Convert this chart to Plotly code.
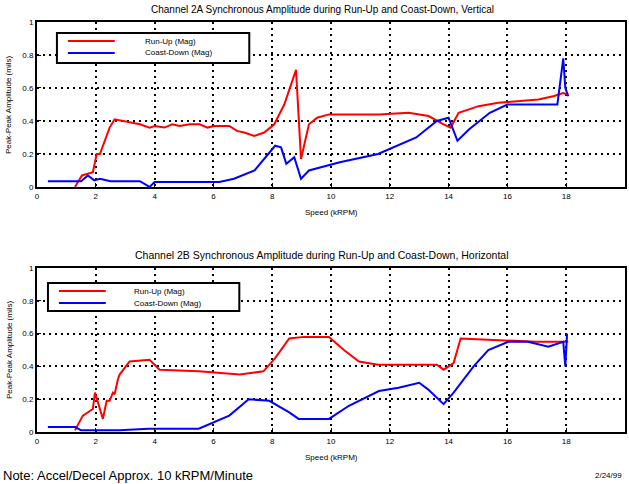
import plotly.graph_objects as go

# ---- data (speed in kRPM, amplitude in mils) ----
top_run_x = [1.29, 1.53, 1.90, 2.03, 2.14, 2.37, 2.47, 2.64, 2.9, 3.15, 3.5, 3.83, 4.0, 4.34, 4.6,
             4.85, 5.2, 5.53, 5.8, 6.03, 6.54, 6.8, 7.05, 7.39, 7.73, 8.07, 8.41, 8.81, 8.98,
             9.25, 9.53, 9.93, 10.61, 11.63, 12.64, 13.32, 13.83, 14.07, 14.34, 15.02, 15.69,
             16.37, 17.05, 17.56, 17.90, 18.07]
top_run_y = [0.0, 0.07, 0.09, 0.2, 0.2, 0.32, 0.36, 0.41, 0.40, 0.39, 0.38, 0.36, 0.37, 0.36, 0.38,
             0.37, 0.38, 0.38, 0.36, 0.37, 0.37, 0.34, 0.33, 0.31, 0.33, 0.38, 0.5, 0.71, 0.17,
             0.38, 0.42, 0.44, 0.44, 0.44, 0.45, 0.43, 0.38, 0.36, 0.45, 0.49, 0.51, 0.52,
             0.53, 0.55, 0.57, 0.56]

top_coast_x = [0.37, 1.3, 1.5, 1.73, 1.95, 2.14, 2.5, 3.5, 3.83, 4.0, 4.2, 6.2, 6.7, 7.4, 8.1, 8.3,
               8.48, 8.75, 8.98, 9.25, 10.3, 11.6, 12.9, 13.6, 14.0, 14.3, 14.7, 15.4, 16.0,
               17.0, 17.7, 17.9, 17.97, 18.07]
top_coast_y = [0.035, 0.035, 0.035, 0.07, 0.04, 0.05, 0.035, 0.035, 0.0, 0.03, 0.03, 0.03, 0.05, 0.1,
               0.25, 0.24, 0.14, 0.18, 0.05, 0.1, 0.15, 0.2, 0.3, 0.4, 0.42, 0.28, 0.35, 0.45, 0.5,
               0.5, 0.5, 0.78, 0.6, 0.55]

bot_run_x = [1.29, 1.56, 1.9, 1.97, 2.14, 2.24, 2.37, 2.47, 2.58, 2.64, 2.75, 2.81, 3.15, 3.83,
             4.17, 5.5, 6.9, 7.7, 8.1, 8.58, 9.08, 9.93, 10.44, 10.95, 11.6, 13.6, 13.83, 14.17,
             14.41, 15.7, 17.0, 18.07]
bot_run_y = [0.01, 0.1, 0.14, 0.24, 0.14, 0.08, 0.19, 0.19, 0.24, 0.23, 0.32, 0.35, 0.43, 0.44,
             0.38, 0.37, 0.35, 0.37, 0.45, 0.57, 0.58, 0.58, 0.5, 0.43, 0.41, 0.41, 0.38, 0.42,
             0.57, 0.56, 0.55, 0.55]

bot_coast_x = [0.37, 1.3, 1.5, 2.8, 3.8, 5.5, 6.54, 7.2, 7.9, 8.58, 8.9, 9.93, 10.61, 11.63,
               12.3, 13.0, 13.3, 13.83, 14.17, 14.85, 15.35, 16.03, 16.7, 17.39, 17.9, 17.97, 18.03]
bot_coast_y = [0.03, 0.03, 0.01, 0.01, 0.02, 0.02, 0.1, 0.2, 0.19, 0.12, 0.08, 0.08, 0.16, 0.25,
               0.27, 0.3, 0.26, 0.17, 0.24, 0.4, 0.5, 0.55, 0.55, 0.52, 0.55, 0.4, 0.6]

x_ticks = [0, 2, 4, 6, 8, 10, 12, 14, 16, 18, 20]
y_ticks = [0, 0.2, 0.4, 0.6, 0.8, 1.0]
y_tick_text = ["0", "0.2", "0.4", "0.6", "0.8", "1"]

titles = ["Channel 2A Synchronous Amplitude during Run-Up and Coast-Down, Vertical",
          "Channel 2B Synchronous Amplitude during Run-Up and Coast-Down, Horizontal"]
legend_names = ["Run-Up (Mag)", "Coast-Down (Mag)"]
x_title = "Speed (kRPM)"
y_title = "Peak-Peak Amplitude (mils)"
footer = "Note: Accel/Decel Approx. 10 kRPM/Minute"
footer_right = "2/24/99"

FONT = "Liberation Sans, Arial, sans-serif"
RED = "#ff0000"
BLUE = "#0000ff"

fig = go.Figure()
fig.add_trace(go.Scatter(x=top_run_x, y=top_run_y, mode="lines", line=dict(color=RED, width=2),
                         xaxis="x", yaxis="y", showlegend=False))
fig.add_trace(go.Scatter(x=top_coast_x, y=top_coast_y, mode="lines", line=dict(color=BLUE, width=2),
                         xaxis="x", yaxis="y", showlegend=False))
fig.add_trace(go.Scatter(x=bot_run_x, y=bot_run_y, mode="lines", line=dict(color=RED, width=2),
                         xaxis="x2", yaxis="y2", showlegend=False))
fig.add_trace(go.Scatter(x=bot_coast_x, y=bot_coast_y, mode="lines", line=dict(color=BLUE, width=2),
                         xaxis="x2", yaxis="y2", showlegend=False))

ax_common = dict(showline=True, linecolor="black", linewidth=2, mirror=True,
                 showgrid=True, gridcolor="black", griddash="2px,4px", gridwidth=2,
                 ticks="inside", ticklen=4, tickcolor="black", tickwidth=1, zeroline=False,
                 tickfont=dict(size=8, color="black", family=FONT))

fig.update_layout(
    width=629, height=484,
    margin=dict(l=37, r=2, t=22, b=52),
    paper_bgcolor="white", plot_bgcolor="white",
    showlegend=False,
    xaxis=dict(domain=[0, 1], range=[0, 20], tickvals=x_ticks, anchor="y", **ax_common),
    yaxis=dict(domain=[0.5976, 1], range=[0, 1], tickvals=y_ticks, ticktext=y_tick_text,
               anchor="x", **ax_common),
    xaxis2=dict(domain=[0, 1], range=[0, 20], tickvals=x_ticks, anchor="y2", **ax_common),
    yaxis2=dict(domain=[0, 0.4], range=[0, 1], tickvals=y_ticks, ticktext=y_tick_text,
                anchor="x2", **ax_common),
)

ann = []
def txt(x, y, s, size=8, xanchor="center", textangle=0):
    ann.append(dict(x=x, y=y, xref="paper", yref="paper", text=s, showarrow=False,
                    xanchor=xanchor, yanchor="middle", textangle=textangle,
                    font=dict(size=size, color="black", family=FONT)))

def py(p):  # pixel y -> paper y
    return (432 - p) / 410.0

def px(p):  # pixel x -> paper x
    return (p - 37) / 590.0

txt(px(323), py(10), titles[0], size=10)
txt(px(323), py(255), titles[1], size=10.5)
txt(px(332), py(212), x_title)
txt(px(332), py(457), x_title)
txt(px(9), py(105), y_title, textangle=-90)
txt(px(9), py(350), y_title, textangle=-90)
txt(px(1), py(475), footer, size=13, xanchor="left")
txt(px(610), py(475), footer_right, size=8)

# legend boxes
shapes = []
for (x0, y0, x1, y1, tx, names, ysA) in [(57, 33, 250, 63, 86, legend_names, (41, 53)),
                                         (48, 283, 240, 311, 84, legend_names, (291, 303))]:
    shapes.append(dict(type="rect", xref="paper", yref="paper", x0=px(x0), x1=px(x1),
                       y0=py(y1), y1=py(y0), line=dict(color="black", width=2),
                       fillcolor="white", layer="above"))
    for yy, c, n in zip(ysA, [RED, BLUE], names):
        shapes.append(dict(type="line", xref="paper", yref="paper", x0=px(x0 + 11), x1=px(x0 + 58),
                           y0=py(yy), y1=py(yy), line=dict(color=c, width=2), layer="above"))
        txt(px(x0 + tx), py(yy), n, size=8, xanchor="left")

fig.update_layout(annotations=ann, shapes=shapes)
fig.write_html("out.html", config={"displayModeBar": False},
               post_script="document.body.style.margin='0px';document.body.style.overflow='hidden';")
